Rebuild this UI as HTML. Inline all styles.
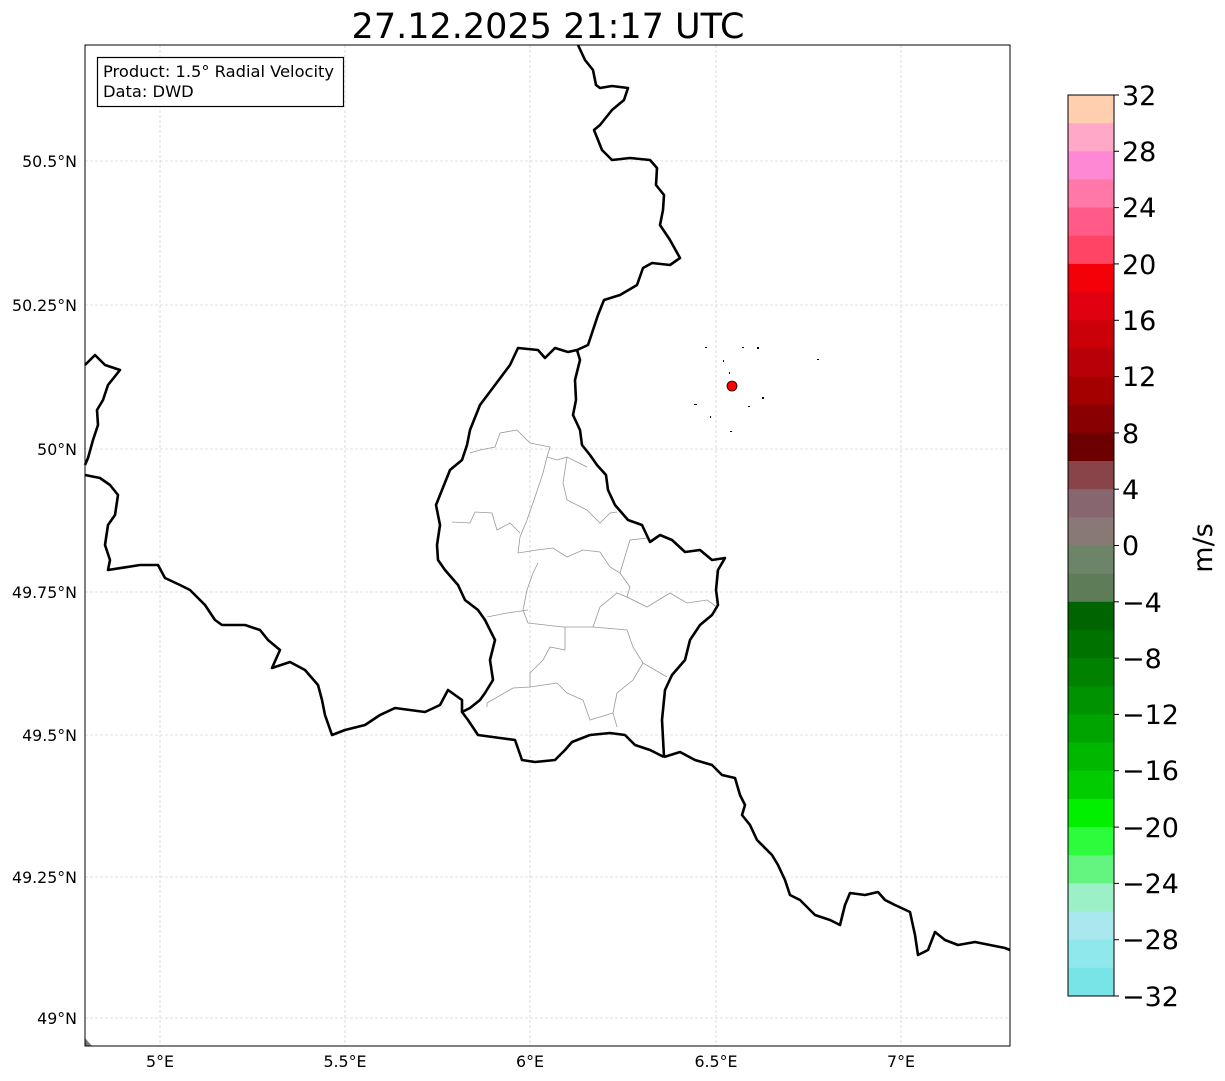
<!DOCTYPE html>
<html><head><meta charset="utf-8"><style>
html,body{margin:0;padding:0;background:#fff;}
svg{display:block;font-family:"DejaVu Sans","Liberation Sans",sans-serif;}
</style></head><body>
<svg width="1225" height="1081" viewBox="0 0 1225 1081" xmlns="http://www.w3.org/2000/svg">
<rect width="1225" height="1081" fill="#fff"/>
<text x="548" y="38" font-size="35" text-anchor="middle" fill="#000">27.12.2025 21:17 UTC</text>
<g stroke="#c4c4c4" stroke-width="0.6" stroke-dasharray="3,2">
<line x1="160" y1="45" x2="160" y2="1046"/><line x1="345" y1="45" x2="345" y2="1046"/><line x1="530" y1="45" x2="530" y2="1046"/><line x1="716" y1="45" x2="716" y2="1046"/><line x1="901" y1="45" x2="901" y2="1046"/>
<line x1="85" y1="161" x2="1010" y2="161"/><line x1="85" y1="305" x2="1010" y2="305"/><line x1="85" y1="449" x2="1010" y2="449"/><line x1="85" y1="592" x2="1010" y2="592"/><line x1="85" y1="735" x2="1010" y2="735"/><line x1="85" y1="877" x2="1010" y2="877"/><line x1="85" y1="1018" x2="1010" y2="1018"/>
</g>
<g fill="none" stroke="#999" stroke-width="0.8">
<polyline points="470,453 480,450 495,447 500,433 517,430 530,443 550,447 547,457 543,473 535,497 527,520 520,537 518,553"/>
<polyline points="547,457 557,460 567,457 587,467"/>
<polyline points="567,457 563,483 567,500 587,510 600,523 610,513 617,512"/>
<polyline points="452,522 470,523 475,512 492,513 497,530 510,523 520,533"/>
<polyline points="518,553 537,550 553,548 567,557 583,550 600,552 610,567 620,573 630,540 647,538"/>
<polyline points="620,573 630,587 627,597 647,607 670,593 687,603 707,600 717,607"/>
<polyline points="538,563 533,573 527,590 523,610 528,623 563,627 593,627 627,630 633,647 643,663 667,677"/>
<polyline points="593,627 600,607 617,593 627,597"/>
<polyline points="487,617 507,613 528,610"/>
<polyline points="565,627 565,650 550,647 543,660 530,673 530,687 513,688 487,703 487,707"/>
<polyline points="530,687 557,683 567,693 583,700 590,720 613,713 617,727"/>
<polyline points="613,713 617,693 633,680 643,663"/>
</g>
<g fill="none" stroke="#000" stroke-width="2.6" stroke-linejoin="round">
<polyline points="578,45 585,60 593,70 596,85 600,88 612,86 628,88 624,100 612,110 600,125 594,130 598,140 602,150 612,160 630,158 650,160 657,168 656,185 664,195 663,210 660,225 670,240 680,258 670,265 652,263 643,268 637,285 620,295 604,300 598,315 593,330 588,345 577,350 580,360 575,380 576,400 573,415 580,430 582,445 590,455 597,465 606,475 608,490 615,505 628,520 642,525 650,542 660,535 672,540 685,552 700,550 712,560 725,558 718,570 716,590 718,605 712,615 700,625 690,640 685,660 672,675 665,690 662,720 664,757"/>
<polyline points="664,757 680,752 695,760 712,765 722,775 735,778 740,795 745,805 742,815 750,825 757,840 772,855 778,865 785,880 790,895 800,900 815,915 830,920 840,925 845,905 850,893 865,895 878,892 885,900 895,905 910,912 915,935 918,955 928,950 935,932 945,940 958,945 975,942 990,945 1005,948 1010,950"/>
<polyline points="577,350 568,352 555,348 545,358 538,350 518,348 510,365 495,385 480,405 470,430 467,445 462,460 450,470 442,490 436,505 440,525 437,545 438,560 445,570 458,585 465,600 478,610 485,620 495,640 490,660 493,680 485,693 480,700 470,708 462,712 468,720 478,735 500,738 515,740 522,760 535,762 555,760 565,750 572,742 590,735 610,733 625,735 635,745 650,750 664,757"/>
<polyline points="85,475 100,478 110,485 118,495 115,515 108,525 105,545 110,560 108,570 140,565 158,565 165,578 180,585 190,590 205,605 215,620 222,625 245,625 260,630 268,640 280,650 272,668 290,662 305,670 318,685 322,700 325,715 332,735 345,730 365,725 380,715 395,708 410,710 425,712 440,705 448,690 462,700 462,712"/>
<polyline points="85,365 95,355 105,365 120,370 108,385 103,400 97,410 98,425 93,440 88,458 85,465"/>
</g>
<path d="M85,1038 L92,1046 L85,1046 Z" fill="#777"/>
<g fill="#000"><rect x="705" y="347" width="2" height="1"/><rect x="742" y="347" width="2" height="1"/><rect x="757" y="347" width="2" height="2"/><rect x="817" y="359" width="2" height="1"/><rect x="723" y="360" width="1" height="2"/><rect x="694" y="404" width="3" height="1"/><rect x="710" y="416" width="1" height="2"/><rect x="730" y="431" width="2" height="1"/><rect x="748" y="406" width="2" height="1"/><rect x="762" y="397" width="2" height="2"/><rect x="729" y="372" width="1" height="2"/></g>
<circle cx="732" cy="386" r="5" fill="#f00" stroke="#000" stroke-width="0.8"/>
<rect x="85" y="45" width="925" height="1001" fill="none" stroke="#000" stroke-width="1"/>
<rect x="97.5" y="57.5" width="246" height="49" fill="#fff" stroke="#000" stroke-width="1.2"/>
<text x="103" y="77" font-size="16.3">Product: 1.5° Radial Velocity</text>
<text x="103" y="97" font-size="16.3">Data: DWD</text>
<g font-size="15.8" text-anchor="end">
<text x="77" y="167">50.5°N</text><text x="77" y="311">50.25°N</text><text x="77" y="455">50°N</text><text x="77" y="598">49.75°N</text><text x="77" y="741">49.5°N</text><text x="77" y="883">49.25°N</text><text x="77" y="1024">49°N</text>
</g>
<g font-size="15.8" text-anchor="middle">
<text x="160" y="1067">5°E</text><text x="345" y="1067">5.5°E</text><text x="530" y="1067">6°E</text><text x="716" y="1067">6.5°E</text><text x="901" y="1067">7°E</text>
</g>
<g>
<rect x="1068" y="95.0" width="46" height="28.6" fill="#ffcfb0"/><rect x="1068" y="123.2" width="46" height="28.6" fill="#ffa8c8"/><rect x="1068" y="151.3" width="46" height="28.6" fill="#ff88d4"/><rect x="1068" y="179.5" width="46" height="28.6" fill="#ff78a8"/><rect x="1068" y="207.6" width="46" height="28.6" fill="#ff5a88"/><rect x="1068" y="235.8" width="46" height="28.6" fill="#ff4466"/><rect x="1068" y="263.9" width="46" height="28.6" fill="#f40008"/><rect x="1068" y="292.1" width="46" height="28.6" fill="#e00010"/><rect x="1068" y="320.3" width="46" height="28.6" fill="#cc0008"/><rect x="1068" y="348.4" width="46" height="28.6" fill="#b80008"/><rect x="1068" y="376.6" width="46" height="28.6" fill="#a40000"/><rect x="1068" y="404.7" width="46" height="28.6" fill="#880000"/><rect x="1068" y="432.9" width="46" height="28.6" fill="#6c0000"/><rect x="1068" y="461.0" width="46" height="28.6" fill="#884448"/><rect x="1068" y="489.2" width="46" height="28.6" fill="#886670"/><rect x="1068" y="517.3" width="46" height="28.6" fill="#887876"/><rect x="1068" y="545.5" width="46" height="28.6" fill="#6c8468"/><rect x="1068" y="573.7" width="46" height="28.6" fill="#5e7c58"/><rect x="1068" y="601.8" width="46" height="28.6" fill="#006400"/><rect x="1068" y="630.0" width="46" height="28.6" fill="#007200"/><rect x="1068" y="658.1" width="46" height="28.6" fill="#008200"/><rect x="1068" y="686.3" width="46" height="28.6" fill="#009200"/><rect x="1068" y="714.4" width="46" height="28.6" fill="#00a400"/><rect x="1068" y="742.6" width="46" height="28.6" fill="#00b800"/><rect x="1068" y="770.7" width="46" height="28.6" fill="#00cc00"/><rect x="1068" y="798.9" width="46" height="28.6" fill="#00f000"/><rect x="1068" y="827.1" width="46" height="28.6" fill="#2cfc3c"/><rect x="1068" y="855.2" width="46" height="28.6" fill="#64f480"/><rect x="1068" y="883.4" width="46" height="28.6" fill="#9cf0c8"/><rect x="1068" y="911.5" width="46" height="28.6" fill="#a8e8ee"/><rect x="1068" y="939.7" width="46" height="28.6" fill="#8ee8ec"/><rect x="1068" y="967.8" width="46" height="28.2" fill="#78e4e8"/>
</g>
<rect x="1068" y="95" width="46" height="901" fill="none" stroke="#000" stroke-width="1"/>
<g stroke="#000" stroke-width="1">
<line x1="1114" y1="95" x2="1119" y2="95"/><line x1="1114" y1="151.3" x2="1119" y2="151.3"/><line x1="1114" y1="207.6" x2="1119" y2="207.6"/><line x1="1114" y1="263.9" x2="1119" y2="263.9"/><line x1="1114" y1="320.3" x2="1119" y2="320.3"/><line x1="1114" y1="376.6" x2="1119" y2="376.6"/><line x1="1114" y1="432.9" x2="1119" y2="432.9"/><line x1="1114" y1="489.2" x2="1119" y2="489.2"/><line x1="1114" y1="545.5" x2="1119" y2="545.5"/><line x1="1114" y1="601.8" x2="1119" y2="601.8"/><line x1="1114" y1="658.1" x2="1119" y2="658.1"/><line x1="1114" y1="714.4" x2="1119" y2="714.4"/><line x1="1114" y1="770.7" x2="1119" y2="770.7"/><line x1="1114" y1="827.1" x2="1119" y2="827.1"/><line x1="1114" y1="883.4" x2="1119" y2="883.4"/><line x1="1114" y1="939.7" x2="1119" y2="939.7"/><line x1="1114" y1="996" x2="1119" y2="996"/>
</g>
<g font-size="27" fill="#000">
<text x="1122" y="105">32</text><text x="1122" y="161">28</text><text x="1122" y="217">24</text><text x="1122" y="274">20</text><text x="1122" y="330">16</text><text x="1122" y="386">12</text><text x="1122" y="443">8</text><text x="1122" y="499">4</text><text x="1122" y="555">0</text><text x="1122" y="612">−4</text><text x="1122" y="668">−8</text><text x="1122" y="724">−12</text><text x="1122" y="780">−16</text><text x="1122" y="837">−20</text><text x="1122" y="893">−24</text><text x="1122" y="949">−28</text><text x="1122" y="1006">−32</text>
</g>
<text x="1212" y="548" font-size="27" text-anchor="middle" transform="rotate(-90 1212 548)">m/s</text>
</svg>
</body></html>
